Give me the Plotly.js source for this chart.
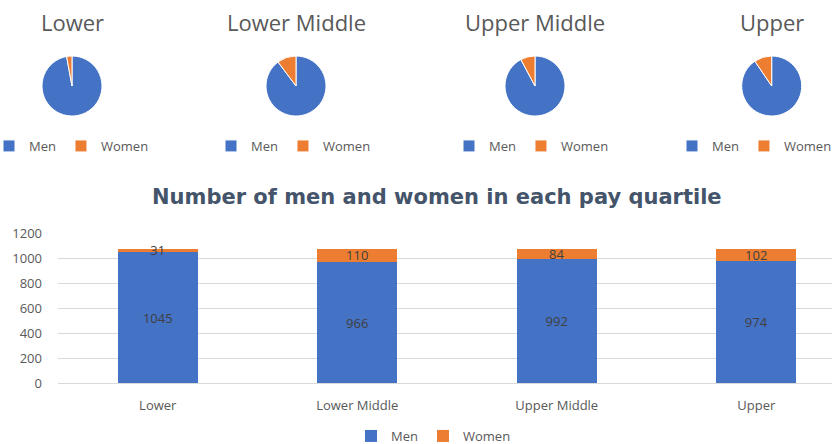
<!DOCTYPE html>
<html>
<head>
<meta charset="utf-8">
<script src="https://cdn.plot.ly/plotly-3.0.1.min.js"></script>
<style>
html,body{margin:0;padding:0;background:#fff;overflow:hidden;}
#chart{width:832px;height:444px;}
</style>
</head>
<body>
<div id="chart"></div>
<script>
// ---- data ----
var quartiles = ["Lower", "Lower Middle", "Upper Middle", "Upper"];
var men = [1045, 966, 992, 974];
var women = [31, 110, 84, 102];
var seriesNames = ["Men", "Women"];
var barTitle = "Number of men and women in each pay quartile";
var yTicks = [0, 200, 400, 600, 800, 1000, 1200];

// ---- styling ----
var W = 832, H = 444;
var MEN_C = "#4472C4", WOMEN_C = "#ED7D31";
var FONT = "'Open Sans', 'Noto Sans', sans-serif";
function px(x){ return x / W; }
function py(y){ return 1 - y / H; }

var pieCenters = [72, 296, 535, 771.7];
// x (px) of each pie legend's first swatch centre
var pieLegendStarts = [9, 231, 469, 692];
var pieR = 30, pieCY = 86;

var traces = [];
var annotations = [];
var layout = {
  width: W, height: H,
  margin: {l: 0, r: 0, t: 0, b: 0, pad: 0, autoexpand: false},
  paper_bgcolor: "#fff", plot_bgcolor: "#fff",
  font: {family: FONT, color: "#595959", size: 13},
  showlegend: true, hovermode: false, barmode: "stack", bargap: 0.6,
  xaxis: {
    domain: [px(58), 1], range: [-0.5, 3.5 - 24 / 199.5], type: "category",
    showgrid: false, zeroline: false, showline: false,
    ticks: "", ticklabelstandoff: 13,
    tickfont: {size: 13, color: "#595959", family: FONT}, fixedrange: true
  },
  yaxis: {
    domain: [py(383), py(233)], range: [0, 1200],
    tickvals: yTicks, ticktext: yTicks.map(String),
    showgrid: true, gridcolor: "#D9D9D9", gridwidth: 1,
    zeroline: true, zerolinecolor: "#D9D9D9", zerolinewidth: 1,
    showline: false, ticks: "", ticklabelstandoff: 15,
    tickfont: {size: 13, color: "#595959", family: FONT}, fixedrange: true
  },
  legend: {
    orientation: "h", x: px(371 - 20), xanchor: "left", y: py(436), yanchor: "middle",
    traceorder: "normal",
    font: {size: 13, color: "#595959", family: FONT},
    bgcolor: "rgba(0,0,0,0)"
  },
  annotations: annotations
};

// four pies, one per quartile
quartiles.forEach(function(q, i){
  var lg = "legend" + (i + 2);
  var cx = pieCenters[i];
  traces.push({
    type: "pie", name: q, labels: seriesNames, values: [men[i], women[i]],
    sort: false, direction: "clockwise", rotation: 0, textinfo: "none", hoverinfo: "skip",
    marker: {colors: [MEN_C, WOMEN_C], line: {color: "#fff", width: 1}},
    domain: {x: [px(cx - pieR), px(cx + pieR)], y: [py(pieCY + pieR), py(pieCY - pieR)]},
    legend: lg, legendgroup: "pie" + i, showlegend: true
  });
  layout[lg] = {
    orientation: "h", x: px(pieLegendStarts[i] - 20), xanchor: "left",
    y: py(146), yanchor: "middle", traceorder: "normal",
    font: {size: 13, color: "#595959", family: FONT}, bgcolor: "rgba(0,0,0,0)"
  };
  annotations.push({
    text: q, xref: "paper", yref: "paper", x: px(cx), y: py(22),
    xanchor: "center", yanchor: "middle", showarrow: false,
    font: {size: 22, color: "#595959", family: FONT}
  });
});

// bar chart title
annotations.push({
  text: "<b>" + barTitle + "</b>", xref: "paper", yref: "paper",
  x: px(436.5), y: py(197), xanchor: "center", yanchor: "middle", showarrow: false,
  font: {size: 21, color: "#44546A", family: "'DejaVu Sans', sans-serif"}
});

// stacked bars
traces.push({
  type: "bar", name: seriesNames[0], x: quartiles, y: men,
  marker: {color: MEN_C, line: {width: 0}},
  text: men.map(String), textposition: "inside", insidetextanchor: "middle",
  constraintext: "none", textangle: 0,
  textfont: {size: 13, color: "#404040", family: FONT}, hoverinfo: "skip", legend: "legend"
});
traces.push({
  type: "bar", name: seriesNames[1], x: quartiles, y: women,
  marker: {color: WOMEN_C, line: {width: 0}},
  text: women.map(String), textposition: "inside", insidetextanchor: "middle",
  constraintext: "none", textangle: 0,
  textfont: {size: 13, color: "#404040", family: FONT}, hoverinfo: "skip", legend: "legend"
});

Plotly.newPlot("chart", traces, layout, {staticPlot: true, displayModeBar: false});
</script>
</body>
</html>
